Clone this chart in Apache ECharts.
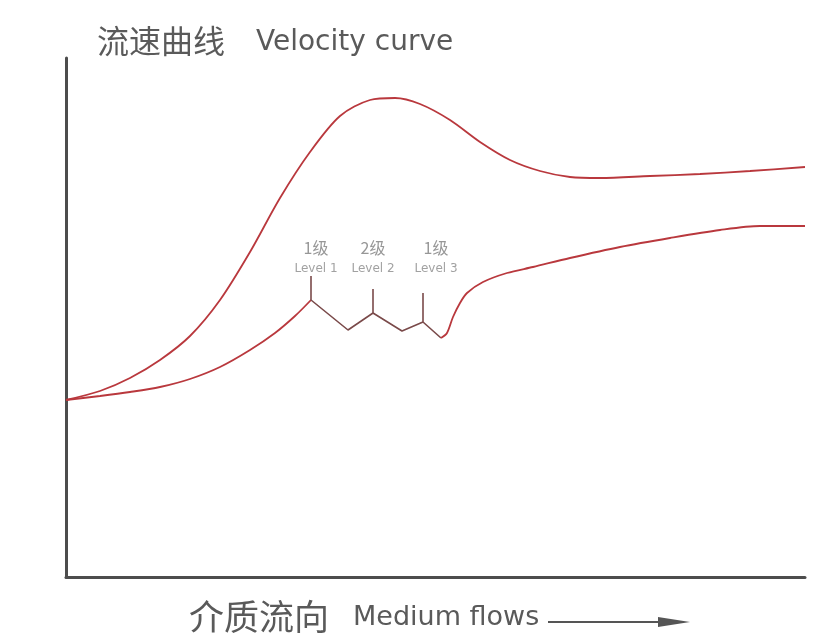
<!DOCTYPE html>
<html>
<head>
<meta charset="utf-8">
<script src="https://cdn.jsdelivr.net/npm/echarts@6/dist/echarts.min.js"></script>
<style>html,body{margin:0;padding:0;background:#fff;}#c{width:822px;height:641px;}</style>
</head>
<body>
<div id="c"></div>
<script>
// Upper curve (velocity without stages)
const upperX = [0, 34, 64, 94, 124, 154, 184, 214, 244, 274, 304, 329, 354, 384, 414, 444, 474, 504, 534, 584, 634, 684, 739];
const upperY = [177, 186, 199, 217, 241, 277, 325, 379, 425, 461, 477, 479, 473, 457, 435, 417, 406, 400, 399, 401, 403, 406, 410];
// Lower curve, left smooth part
const lowLX = [0, 34, 64, 94, 124, 154, 184, 209, 229, 245];
const lowLY = [177, 181, 185, 190, 198, 210, 227, 244, 261, 277];
// Lower curve, staged zig-zag with spikes
const zigX = [245, 245, 245, 282, 307, 307, 307, 336, 357, 357, 357, 375];
const zigY = [277, 301, 277, 247, 264, 288, 264, 246, 255, 284, 255, 239];
// Lower curve, right smooth part
const lowRX = [375, 381, 387, 394, 401, 417, 441, 467, 504, 554, 604, 654, 694, 739];
const lowRY = [239, 244, 260, 274, 284, 295, 304, 310, 319, 330, 339, 347, 351, 351];
// Stage labels
const stageCn = ['1级', '2级', '1级'];
const stageEn = ['Level 1', 'Level 2', 'Level 3'];
const stageX = [250, 307, 370];
const stageY = [321, 321, 321];

const titleCn = '流速曲线';
const titleEn = 'Velocity curve';
const xNameCn = '介质流向';
const xNameEn = 'Medium flows';

const pair = (xs, ys) => xs.map((x, i) => [x, ys[i]]);
const lineColor = '#b9383d';
const cjk = '"Noto Sans CJK SC", sans-serif';
const lat = '"DejaVu Sans", sans-serif';
const chart = echarts.init(document.getElementById('c'));
chart.setOption({
  backgroundColor: '#fff',
  animation: false,
  grid: { left: 66, top: 58, right: 17, bottom: 64 },
  xAxis: {
    type: 'value', min: 0, max: 739,
    axisLine: { show: true, lineStyle: { color: '#4d4d4d', width: 3 } },
    axisTick: { show: false }, axisLabel: { show: false }, splitLine: { show: false }
  },
  yAxis: {
    type: 'value', min: 0, max: 519,
    axisLine: { show: true, lineStyle: { color: '#4d4d4d', width: 3 } },
    axisTick: { show: false }, axisLabel: { show: false }, splitLine: { show: false }
  },
  series: [
    { type: 'line', data: pair(upperX, upperY), smooth: 0.3, symbol: 'none', lineStyle: { color: lineColor, width: 1.8 } },
    { type: 'line', data: pair(lowLX, lowLY), smooth: 0.3, symbol: 'none', lineStyle: { color: lineColor, width: 1.8 } },
    { type: 'line', data: pair(zigX, zigY), smooth: false, symbol: 'none', lineStyle: { color: '#7a4a4a', width: 1.6 } },
    { type: 'line', data: pair(lowRX, lowRY), smooth: 0.3, symbol: 'none', lineStyle: { color: lineColor, width: 1.8 } },
    {
      type: 'scatter', symbolSize: 0, silent: true,
      data: stageX.map((x, i) => [x, stageY[i]]),
      label: {
        show: true, position: 'inside',
        formatter: p => '{a|' + stageCn[p.dataIndex] + '}\n{b|' + stageEn[p.dataIndex] + '}',
        rich: {
          a: { fontSize: 16, color: '#7d7d7d', lineHeight: 25, align: 'center', fontFamily: cjk },
          b: { fontSize: 12, color: '#8a8a8a', lineHeight: 16, align: 'center', fontFamily: lat }
        }
      }
    }
  ],
  graphic: [
    { type: 'text', left: 97, top: 25, style: { text: titleCn, fontSize: 32, fontFamily: cjk, fill: '#5a5a5a' } },
    { type: 'text', left: 256, top: 29, style: { text: titleEn, fontSize: 28, fontFamily: lat, fill: '#5a5a5a' } },
    { type: 'text', left: 189, top: 599, style: { text: xNameCn, fontSize: 35, fontFamily: cjk, fill: '#5a5a5a' } },
    { type: 'text', left: 353, top: 604, style: { text: xNameEn, fontSize: 27, fontFamily: lat, fill: '#5a5a5a' } },
    { type: 'line', shape: { x1: 548, y1: 622, x2: 668, y2: 622 }, style: { stroke: '#555', lineWidth: 1.8 } },
    { type: 'polygon', shape: { points: [[658, 617], [690, 622], [658, 627]] }, style: { fill: '#555' } }
  ]
});
</script>
</body>
</html>
